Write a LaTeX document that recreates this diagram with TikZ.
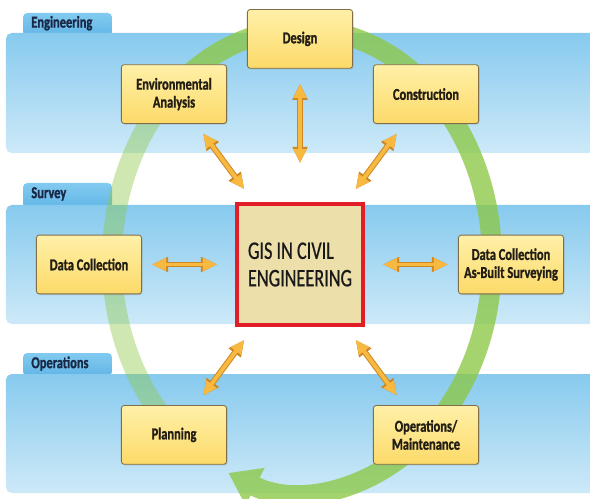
\documentclass[tikz,border=0pt]{standalone}
\usepackage{fontspec}
\setsansfont{Carlito}[FakeStretch=0.75, BoldFeatures={FakeBold=1.2}]
\newfontfamily\gisfont{Carlito}[FakeStretch=0.72, FakeBold=0.6]
\usetikzlibrary{arrows.meta,positioning,shadows}

\definecolor{bandtop}{RGB}{135,202,238}
\definecolor{bandbot}{RGB}{205,233,248}
\definecolor{tabtop}{RGB}{130,202,240}
\definecolor{tabbot}{RGB}{98,182,230}
\definecolor{tabtext}{RGB}{25,40,70}
\definecolor{boxtop}{RGB}{255,240,168}
\definecolor{boxbot}{RGB}{252,218,105}
\definecolor{boxline}{RGB}{130,110,70}
\definecolor{labelcol}{RGB}{35,30,20}
\definecolor{gisfill}{RGB}{237,223,170}
\definecolor{gisline}{RGB}{225,30,40}
\definecolor{ringgreen}{RGB}{140,200,70}
\definecolor{arrowfill}{RGB}{248,185,65}
\definecolor{arrowline}{RGB}{205,135,35}

\begin{document}
\begin{tikzpicture}[on grid,
  stagebox/.style={rectangle, rounded corners=2pt, draw=boxline, line width=0.6pt,
    top color=boxtop, bottom color=boxbot, minimum width=2.63cm, minimum height=1.47cm,
    inner sep=1pt, align=center, text=labelcol,
    font=\sffamily\bfseries\fontsize{11.8}{12.8}\selectfont,
    drop shadow={shadow xshift=0.6pt, shadow yshift=-0.8pt, opacity=0.3}},
  hubbox/.style={rectangle, draw=gisline, line width=2.85pt, fill=gisfill,
    minimum width=3.15cm, minimum height=3.025cm, align=left, text=black!90,
    font=\gisfont\fontsize{18}{19.5}\selectfont},
  twoway/.style={draw=arrowfill, line width=2.8pt,
    {Triangle[length=10pt,width=8.5pt]}-{Triangle[length=10pt,width=8.5pt]},
    preaction={draw=arrowline, line width=4.2pt,
      {Triangle[length=11.5pt,width=10.2pt]}-{Triangle[length=11.5pt,width=10.2pt]}}},
  band/.style={rounded corners=4pt, top color=bandtop, bottom color=bandbot},
  tab/.style={rounded corners=3pt, top color=tabtop, bottom color=tabbot},
  tablabel/.style={anchor=west, text=tabtext, font=\sffamily\bfseries\fontsize{11.8}{12}\selectfont},
  ring/.style={draw=ringgreen, line width=0.5cm}]

  \useasboundingbox (0,0) rectangle (14.75,-12.475);
  \clip (0,0) rectangle (14.75,-12.475);

  \path[tab] (0.575,-0.9) |- (2.8,-0.325) -- (2.8,-0.9) -- cycle;
  \path[band] (0.15,-0.825) rectangle (15.2,-3.825);
  \path[tab] (0.575,-5.2) |- (2.8,-4.575) -- (2.8,-5.2) -- cycle;
  \path[band] (0.15,-5.125) rectangle (15.2,-8.1);
  \path[tab] (0.575,-9.4) |- (2.8,-8.825) -- (2.8,-9.4) -- cycle;
  \path[band] (0.15,-9.35) rectangle (15.2,-12.325);

  \node[tablabel] (englabel) at (0.66,-0.58) {Engineering};
  \node[tablabel] (survlabel) at (0.66,-4.85) {Survey};
  \node[tablabel] (opslabel) at (0.66,-9.09) {Operations};

  \coordinate (hub) at (7.55,-6.5);
  \begin{scope}[transparency group, opacity=0.42]
    \draw[ring] ([shift={(232:4.75cm and 5.775cm)}]hub)
      arc[start angle=232, end angle=134, x radius=4.75cm, y radius=5.775cm];
  \end{scope}
  \begin{scope}[transparency group, opacity=0.78]
    \draw[ring, -{Triangle[width=1cm,length=0.75cm]}] ([shift={(134:4.75cm and 5.775cm)}]hub)
      arc[start angle=134, end angle=-112.8, x radius=4.75cm, y radius=5.775cm];
  \end{scope}

  \node[hubbox] (gis) at (7.5,-6.6125) {GIS IN CIVIL\\ENGINEERING};
  \node[stagebox] (design) [above=5.64cm of gis] {Design};
  \node[stagebox] (env) [above left=4.26cm and 3.15cm of gis] {Environmental\\Analysis};
  \node[stagebox] (constr) [above right=4.26cm and 3.15cm of gis] {Construction};
  \node[stagebox] (datacol) [left=5.275cm of gis] {Data Collection};
  \node[stagebox] (asbuilt) [right=5.275cm of gis] {Data Collection\\As-Built Surveying};
  \node[stagebox] (planning) [below left=4.26cm and 3.15cm of gis] {Planning};
  \node[stagebox] (ops) [below right=4.26cm and 3.15cm of gis] {Operations/\\Maintenance};

  \path[every edge/.style={twoway}]
    (gis) edge [shorten <=0.975cm, shorten >=0.375cm] (design)
          edge [shorten <=0.4cm, shorten >=0.3cm] (env)
          edge [shorten <=0.4cm, shorten >=0.3cm] (constr)
          edge [shorten <=0.45cm, shorten >=0.25cm] (datacol)
          edge [shorten <=0.45cm, shorten >=0.25cm] (asbuilt)
          edge [shorten <=0.4cm, shorten >=0.3cm] (planning)
          edge [shorten <=0.4cm, shorten >=0.3cm] (ops);

\end{tikzpicture}
\end{document}
